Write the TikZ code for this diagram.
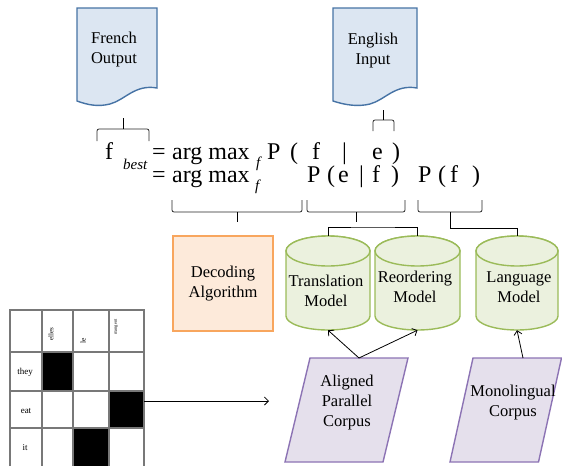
\documentclass[tikz,border=0pt]{standalone}
\usepackage{fontspec}
\setmainfont{Liberation Serif}
\usetikzlibrary{arrows.meta}
\definecolor{docfill}{RGB}{220,230,242}
\definecolor{docline}{RGB}{70,115,165}
\definecolor{decfill}{RGB}{253,234,218}
\definecolor{decline}{RGB}{248,166,94}
\definecolor{cylfill}{RGB}{235,241,222}
\definecolor{cylline}{RGB}{155,187,89}
\definecolor{parfill}{RGB}{229,224,236}
\definecolor{parline}{RGB}{140,115,180}
\definecolor{gridline}{RGB}{120,120,120}
\newcommand\mycyl[2]{%
 \filldraw[cylst] ({#1-#2},251) -- ({#1-#2},316) .. controls ({#1-#2},323.7) and ({#1-0.552*#2},330) .. (#1,330) .. controls ({#1+0.552*#2},330) and ({#1+#2},323.7) .. ({#1+#2},316) -- ({#1+#2},251) .. controls ({#1+#2},242.7) and ({#1+0.552*#2},236) .. (#1,236) .. controls ({#1-0.552*#2},236) and ({#1-#2},242.7) .. cycle;
 \draw[cylst] (#1,251) ellipse [x radius=#2, y radius=15];}
\begin{document}
\begin{tikzpicture}[x=1pt,y=-1pt,
  txt/.style={font=\fontsize{16.5}{20}\selectfont, align=center, inner sep=0pt, text=black},
  eqt/.style={font=\fontsize{24}{24}\selectfont, anchor=base west, inner sep=0pt},
  eqs/.style={font=\fontsize{15}{15}\selectfont\itshape, anchor=base west, inner sep=0pt},
  brk/.style={draw=black!85, line width=0.8pt, rounded corners=2pt},
  conn/.style={draw=black, line width=0.8pt},
  arr/.style={draw=black, line width=0.8pt, -{Straight Barb[length=4pt,width=8pt]}},
  docst/.style={fill=docfill, draw=docline, line width=1.4pt},
  cylst/.style={fill=cylfill, draw=cylline, line width=1.4pt},
  cylnode/.style={minimum width=84pt, minimum height=94pt, inner sep=0pt},
  decbox/.style={fill=decfill, draw=decline, line width=1.4pt, minimum width=100pt, minimum height=95pt, inner sep=0pt},
  parst/.style={fill=parfill, draw=parline, line width=1.4pt},
  gridst/.style={draw=gridline, line width=1.2pt},
  tab/.style={font=\fontsize{9}{9}\selectfont, inner sep=0pt}
]
\useasboundingbox (0,0) rectangle (562,466);

% documents
\filldraw[docst] (77,8) -- (157,8) -- (157,88) .. controls (135,84) and (125,100) .. (110,104) .. controls (98,107) and (88,105) .. (77,101) -- cycle;
\node[txt] (fr) at (114,50) {French\\Output};
\filldraw[docst] (333,8) -- (417,8) -- (417,88) .. controls (395,84) and (385,100) .. (370,104) .. controls (358,107) and (345,105) .. (333,101) -- cycle;
\node[txt] (en) at (373,51) {English\\Input};

% top brackets
\draw[brk] (97,141) -- (97,129) -- (149,129) -- (149,141);
\draw[conn] (123,129) -- (123,118);
\draw[brk] (373,131) -- (373,120) -- (394,120) -- (394,131);
\draw[conn] (383.5,120) -- (383.5,110);

% equation line 1
\node[eqt] (fb) at (105,159) {f};
\node[eqs] (best) at (123,169) {best};
\node[eqt] (eqa) at (152,159) {=};
\node[eqt] (ama) at (172,159) {arg max};
\node[eqs] (sfa) at (256,167) {f};
\node[eqt] (p1) at (267,159) {P};
\node[eqt] (l1) at (290,159) {(};
\node[eqt] (f1) at (312,159) {f};
\node[eqt] (b1) at (342,159) {|};
\node[eqt] (e1) at (372,159) {e};
\node[eqt] (r1) at (392,159) {)};
% equation line 2
\node[eqt] (eqb) at (152,182) {=};
\node[eqt] (amb) at (172,182) {arg max};
\node[eqs] (sfb) at (255,190) {f};
\node[eqt] (p2) at (307,182) {P};
\node[eqt] (l2) at (327,182) {(};
\node[eqt] (e2) at (338,182) {e};
\node[eqt] (b2) at (359,182) {|};
\node[eqt] (f2) at (372,182) {f};
\node[eqt] (r2) at (391,182) {)};
\node[eqt] (p3) at (418,182) {P};
\node[eqt] (l3) at (438,182) {(};
\node[eqt] (f3) at (450,182) {f};
\node[eqt] (r3) at (472,182) {)};

% bottom brackets
\draw[brk] (172,200) -- (172,212) -- (302,212) -- (302,200);
\draw[conn] (237,212) -- (237,222);
\draw[brk] (307,200) -- (307,212) -- (405,212) -- (405,200);
\draw[conn] (356,212) -- (356,222);
\draw[brk] (418,200) -- (418,212) -- (482,212) -- (482,200);

% decoding box
\node[decbox, txt] (dec) at (223,283.5) {Decoding\\Algorithm};

% cylinders
\mycyl{328}{42}
\mycyl{417.5}{42.5}
\mycyl{517}{41}
\node[cylnode] (trans) at (328,283) {};
\node[cylnode] (reord) at (417.5,283) {};
\node[cylnode] (lang) at (517,283) {};
\node[txt] (transt) at (326,291) {Translation\\Model};
\node[txt] (reordt) at (415,287) {Reordering\\Model};
\node[txt] (langt) at (519,287) {Language\\Model};

% connectors from brackets
\coordinate (bar) at (373,227);
\draw[conn] (trans.north) |- (bar) -| (reord.north);
\coordinate (pftick) at (450,212);
\coordinate (pfbend) at (450,228);
\draw[conn] (pftick) -- (pfbend) -| (lang.north);

% parallelograms
\filldraw[parst] (310,358) -- (408,358) -- (383,462) -- (285,462) -- cycle;
\node[txt] (apc) at (347,403) {Aligned\\Parallel\\Corpus};
\filldraw[parst] (473,358) -- (561.5,358) -- (538.5,462) -- (450,462) -- cycle;
\node[txt] (mono) at (513,403) {Monolingual\\Corpus};

\coordinate (apctop) at (359,358);
\coordinate (mctop) at (523,358);
\draw[arr] (apctop) -- (trans.south);
\draw[arr] (apctop) -- (reord.south);
\draw[arr] (mctop) -- (lang.south);

% alignment table
\fill[black] (42,352) rectangle (73,391);
\fill[black] (109,391) rectangle (144,428);
\fill[black] (73,428) rectangle (109,466);
\draw[gridst] (10,466) -- (10,310) -- (144,310) -- (144,466);
\draw[gridst] (42,310) -- (42,466);
\draw[gridst] (73,310) -- (73,466);
\draw[gridst] (109,310) -- (109,466);
\draw[gridst] (10,352) -- (144,352);
\draw[gridst] (10,391) -- (144,391);
\draw[gridst] (10,428) -- (144,428);
\node[tab] (they) at (25,372) {they};
\node[tab] (eat) at (26,411) {eat};
\node[tab] (it) at (25,448) {it};
\node[tab, font=\fontsize{7}{7}\selectfont, rotate=90] (elles) at (51,334) {elles};
\node[tab, font=\fontsize{7.5}{7.5}\selectfont, rotate=90] (le) at (83,341) {le};
\node[tab, font=\fontsize{4.5}{4.5}\selectfont, rotate=90] (mangent) at (116,327) {mangent};

\coordinate (tabout) at (144,401);
\coordinate (arrend) at (269,401);
\draw[arr] (tabout) -- (arrend);
\end{tikzpicture}
\end{document}
